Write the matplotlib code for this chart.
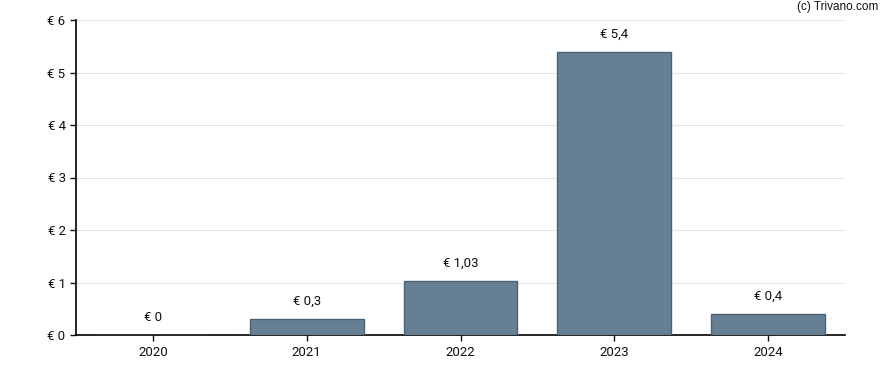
import matplotlib
matplotlib.use("Agg")
import matplotlib.pyplot as plt

years = ["2020", "2021", "2022", "2023", "2024"]
values = [0.0, 0.3, 1.03, 5.4, 0.4]
labels = ["€ 0", "€ 0,3", "€ 1,03", "€ 5,4", "€ 0,4"]
yticks = [0, 1, 2, 3, 4, 5, 6]

plt.rcParams['font.family'] = ['Roboto', 'DejaVu Sans']

fig = plt.figure(figsize=(8.88, 3.70), dpi=100)
ax = fig.add_axes([76/888, 1-335/370, (845-76)/888, (335-20)/370])

x = list(range(len(years)))
ax.bar(x, values, width=0.74, color="#667f92", edgecolor="#4a6378", linewidth=1, zorder=3)
for xi, v, lab in zip(x, values, labels):
    ax.annotate(lab, (xi, v), xytext=(0, 8), textcoords="offset points",
                ha="center", va="bottom", fontsize=9.5, color="#111111")

ax.set_xlim(-0.5, 4.5)
ax.set_ylim(0, 6)
ax.set_yticks(yticks)
ax.set_yticklabels([f"€ {t}" for t in yticks])
ax.set_xticks(x)
ax.set_xticklabels(years)
ax.grid(axis="y", color="#e6e6e6", linewidth=0.8, zorder=0)
for s in ["top", "right"]:
    ax.spines[s].set_visible(False)
ax.spines["left"].set_linewidth(1.2)
ax.spines["bottom"].set_linewidth(1.2)
ax.tick_params(axis="both", labelsize=9.5, colors="#111111", length=4, width=1)
ax.tick_params(axis="x", pad=4)

fig.text(878/888, 1-7/370, "(c) Trivano.com", ha="right", va="center", fontsize=8.5, color="#111111",
         family=['Liberation Sans', 'DejaVu Sans'])

fig.savefig("out.png", dpi=100)
